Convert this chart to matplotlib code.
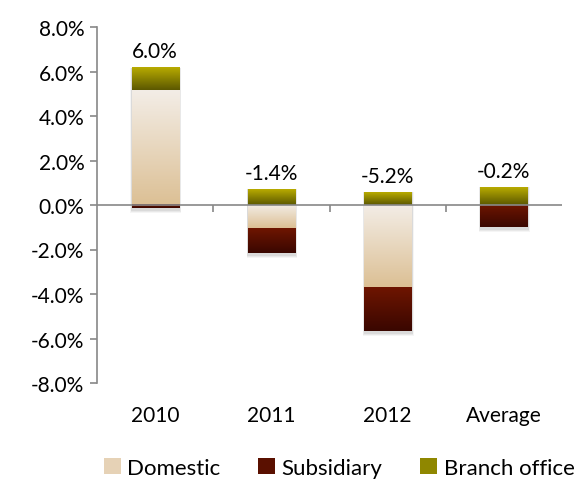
import numpy as np
import matplotlib
matplotlib.use('Agg')
import matplotlib.pyplot as plt
from matplotlib.colors import LinearSegmentedColormap
from matplotlib.patches import Patch, Rectangle

categories = ['2010', '2011', '2012', 'Average']
domestic = [5.15, -1.05, -3.7, 0.0]
subsidiary = [-0.15, -1.1, -1.95, -1.0]
branch = [1.0, 0.7, 0.55, 0.8]
totals = ['6.0%', '-1.4%', '-5.2%', '-0.2%']
series_names = ['Domestic', 'Subsidiary', 'Branch office']

plt.rcParams['font.family'] = ['Lato', 'DejaVu Sans']

# gradient colours: top -> bottom
grads = {
    'Domestic': ('#f3ede6', '#dcc095'),
    'Subsidiary': ('#6e1500', '#3a0700'),
    'Branch office': ('#b8ab00', '#5c5800'),
}

fig = plt.figure(figsize=(5.75, 4.89), dpi=100)
ax = fig.add_axes([97 / 575, 105 / 489, 465 / 575, 356 / 489])

width = 0.405
x = np.arange(len(categories))
grad_img = np.linspace(1, 0, 64).reshape(-1, 1)


def draw_seg(xc, lo, hi, name):
    if hi - lo <= 0:
        return
    cmap = LinearSegmentedColormap.from_list(name, [grads[name][1], grads[name][0]])
    ax.imshow(grad_img, extent=[xc - width / 2, xc + width / 2, lo, hi],
              aspect='auto', cmap=cmap, vmin=0, vmax=1, zorder=3,
              interpolation='bicubic')


for i, xc in enumerate(x):
    pos = 0.0
    neg = 0.0
    segs = []
    for name, vals in zip(series_names, [domestic, subsidiary, branch]):
        v = vals[i]
        if v >= 0:
            segs.append((pos, pos + v, name))
            pos += v
        else:
            segs.append((neg + v, neg, name))
            neg += v
    # soft shadow
    for k, a in enumerate([0.06, 0.05, 0.04]):
        d = 0.012 * (k + 1)
        ax.add_patch(Rectangle((xc - width / 2 - d * 0.3, neg - 0.08 - d * 4),
                               width + d * 0.6 + 0.01, pos - neg + 0.1 + d * 4,
                               facecolor='black', alpha=a, edgecolor='none', zorder=2))
    for lo, hi, name in segs:
        draw_seg(xc, lo, hi, name)
    ax.text(xc, pos + 0.3, totals[i], ha='center', va='bottom', fontsize=15,
            color='#000000', zorder=5)

ax.set_xlim(-0.5, len(categories) - 0.5)
ax.set_ylim(-8, 8)
ax.set_yticks(np.arange(-8, 8.1, 2))
ax.set_yticklabels(['%.1f%%' % v for v in np.arange(-8, 8.1, 2)], fontsize=15)
ax.set_xticks(x)
ax.set_xticklabels(categories, fontsize=15)
ax.tick_params(axis='x', length=0, pad=16)
ax.tick_params(axis='y', length=5, color='#888888', width=1.2, pad=4)

for s in ['top', 'right', 'bottom']:
    ax.spines[s].set_visible(False)
ax.spines['left'].set_color('#888888')
ax.spines['left'].set_linewidth(1.2)
ax.axhline(0, color='#888888', lw=1.2, zorder=4)
ax.vlines(x[:-1] + 0.5, -0.3, 0, color='#888888', lw=1.2, zorder=4)

legend_colors = ['#e6d2b6', '#5a1000', '#8f8700']
handles = [Patch(facecolor=c, edgecolor='none') for c in legend_colors]
fig.legend(handles, series_names, loc='lower center', ncol=3, frameon=False,
           fontsize=16, bbox_to_anchor=(0.59, -0.02), handlelength=0.75,
           handleheight=0.75, handletextpad=0.3, columnspacing=1.7)

fig.savefig('out.png', dpi=100)
